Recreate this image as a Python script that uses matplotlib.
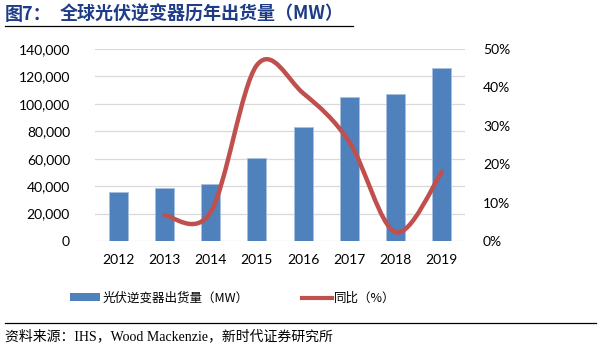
import matplotlib
matplotlib.use("Agg")
import matplotlib.pyplot as plt
from matplotlib.path import Path
from matplotlib.patches import PathPatch, Patch
from matplotlib.lines import Line2D
from matplotlib.ticker import FuncFormatter

plt.rcParams['font.family'] = ['Lato', 'Noto Sans CJK SC', 'DejaVu Sans']

# 数据
years = ['2012', '2013', '2014', '2015', '2016', '2017', '2018', '2019']
shipments = [36000, 38400, 41300, 60300, 83300, 104800, 107200, 126400]  # MW
yoy_years = [1, 2, 3, 4, 5, 6, 7]  # 2013-2019 的位置
yoy = [6.7, 7.5, 45.8, 38.5, 25.8, 2.3, 18.0]  # %

bar_color = '#4F81BD'
line_color = '#C0504D'

fig = plt.figure(figsize=(5.99, 3.5), dpi=100)
ax = fig.add_axes([0.1586, 0.3114, 0.6177, 0.5486])
ax2 = ax.twinx()

x = list(range(len(years)))
ax.bar(x, shipments, width=0.41, color=bar_color, edgecolor='#A9C0DF', linewidth=0.6, zorder=3)
ax.set_xlim(-0.5, 7.5)
ax.set_ylim(0, 140000)
ax.set_yticks(range(0, 140001, 20000))
ax.yaxis.set_major_formatter(FuncFormatter(lambda v, p: f'{int(v):,}'))
ax.set_xticks(x)
ax.set_xticklabels(years)
ax.grid(axis='y', color='#D9D9D9', linewidth=0.9, zorder=0)
ax.set_axisbelow(True)

# 平滑曲线（类似 Excel 的平滑线，Catmull-Rom -> 三次贝塞尔）
pts = list(zip(yoy_years, yoy))
verts = [pts[0]]
codes = [Path.MOVETO]
n = len(pts)
for i in range(n - 1):
    p0 = pts[i - 1] if i > 0 else pts[i]
    p1 = pts[i]
    p2 = pts[i + 1]
    p3 = pts[i + 2] if i + 2 < n else pts[i + 1]
    c1 = (p1[0] + (p2[0] - p0[0]) / 6, p1[1] + (p2[1] - p0[1]) / 6)
    c2 = (p2[0] - (p3[0] - p1[0]) / 6, p2[1] - (p3[1] - p1[1]) / 6)
    verts += [c1, c2, p2]
    codes += [Path.CURVE4] * 3
ax2.add_patch(PathPatch(Path(verts, codes), facecolor='none', edgecolor=line_color,
                        linewidth=3.2, capstyle='round', zorder=4))
ax2.set_ylim(0, 50)
ax2.set_yticks(range(0, 51, 10))
ax2.yaxis.set_major_formatter(FuncFormatter(lambda v, p: f'{int(v)}%'))

for a in (ax, ax2):
    for s in a.spines.values():
        s.set_visible(False)
    a.tick_params(length=0, labelsize=10, colors='#000000')
ax.tick_params(axis='y', pad=18)
ax.tick_params(axis='x', pad=9)
ax2.tick_params(axis='y', pad=13)

# 标题
title_color = '#1F3C88'
fig.text(0.008, 0.96, '图7：', fontsize=13, fontweight='bold', color=title_color,
         family=['Noto Sans CJK SC'], va='center')
fig.text(0.1, 0.96, '全球光伏逆变器历年出货量（MW）', fontsize=13, fontweight='bold',
         color=title_color, family=['Noto Sans CJK SC'], va='center')
fig.add_artist(Line2D([0.008, 0.59], [0.925, 0.925], color='black', linewidth=0.9))

# 图例
handles = [Patch(facecolor=bar_color, label='光伏逆变器出货量（MW）'),
           Line2D([0], [0], color=line_color, linewidth=3, label='同比（%）')]
leg = fig.legend(handles=handles, loc='center', bbox_to_anchor=(0.389, 0.148), ncol=2,
                 frameon=False, handlelength=2.4, handleheight=0.6,
                 handletextpad=0.2, columnspacing=4.2,
                 prop={'family': ['Noto Sans CJK SC'], 'size': 9})

# 来源
fig.add_artist(Line2D([0.008, 0.995], [0.077, 0.077], color='black', linewidth=0.9))
fig.text(0.008, 0.04, '资料来源：IHS，Wood Mackenzie，新时代证券研究所', fontsize=10,
         family=['Liberation Serif', 'Noto Sans CJK SC'], va='center')

fig.savefig('out.png', dpi=100)
